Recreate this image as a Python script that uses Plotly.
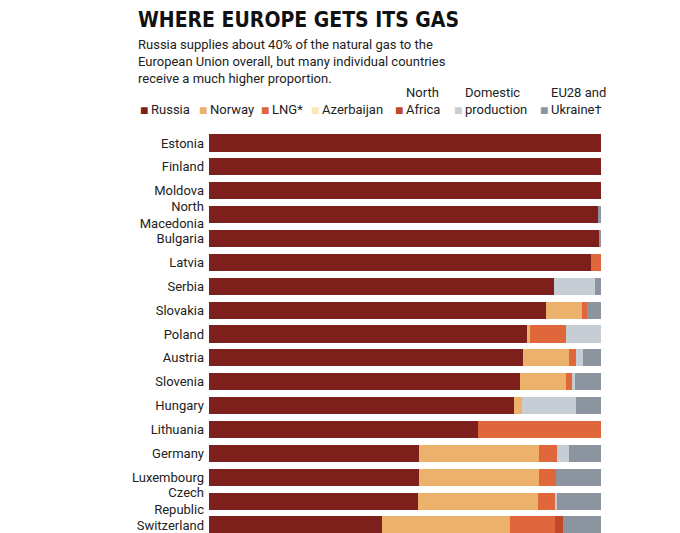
import plotly.graph_objects as go

countries = ["Estonia","Finland","Moldova","North<br>Macedonia","Bulgaria","Latvia","Serbia","Slovakia",
             "Poland","Austria","Slovenia","Hungary","Lithuania","Germany","Luxembourg","Czech<br>Republic","Switzerland"]
series = ["Russia","Norway","LNG*","Azerbaijan","North<br>Africa","Domestic<br>production","EU28 and<br>Ukraine†"]
colors = ["#7d1f1a","#ecb26c","#e0673c","#fbe8b4","#bf4a2b","#c7cdd5","#8c959f"]
russia     = [100,100,100,99.2,99.5,97.4,88.0,86.0,81.1,80.1,79.3,77.8,68.6,53.6,53.6,53.3,44.1]
norway     = [0,0,0,0,0,0,0,9.2,0.8,11.7,11.7,2.0,0,30.6,30.6,30.6,32.7]
lng        = [0,0,0,0,0,2.6,0,1.3,9.2,1.8,1.8,0,31.4,4.6,4.3,4.6,11.5]
azerbaijan = [0]*17
nafrica    = [0,0,0,0,0,0,0,0,0,0,0,0,0,0,0,0,2.0]
domestic   = [0,0,0,0,0,0,10.5,0,8.9,1.8,0.5,13.8,0,3.1,0,0.3,0]
eu_ukraine = [0,0,0,0.8,0.5,0,1.5,3.5,0,4.6,6.7,6.4,0,8.1,11.5,11.2,9.7]
values = [russia,norway,lng,azerbaijan,nafrica,domestic,eu_ukraine]

fig = go.Figure()
for name, col, v in zip(series, colors, values):
    fig.add_trace(go.Bar(y=countries, x=v, name=name, orientation="h",
                         marker=dict(color=col, line=dict(width=0)), showlegend=False))

fig.update_layout(
    barmode="stack", width=680, height=533, bargap=0.28,
    margin=dict(l=201, r=87, t=123, b=4, autoexpand=False),
    paper_bgcolor="white", plot_bgcolor="white",
    font=dict(family="Roboto", size=13, color="#222"),
    xaxis=dict(range=[0,100], visible=False, automargin=False),
    yaxis=dict(autorange="reversed", showgrid=False, ticks="", ticklen=0, automargin=False,
               ticklabelstandoff=4, tickfont=dict(size=13, color="#222")),
)
fig.add_annotation(xref="paper", yref="paper", x=-0.187, y=1.24, xanchor="left", yanchor="bottom",
                   text="<b>WHERE EUROPE GETS ITS GAS</b>", showarrow=False,
                   font=dict(family="DejaVu Sans Condensed", size=21, color="#111"))
fig.add_annotation(xref="paper", yref="paper", x=-0.187, y=1.236, xanchor="left", yanchor="top", align="left",
                   text="Russia supplies about 40% of the natural gas to the<br>European Union overall, but many individual countries<br>receive a much higher proportion.",
                   showarrow=False, font=dict(size=13, color="#222"))
leg_x = [130, 189, 251, 301, 385, 444, 530]
for name, col, lx in zip(series, colors, leg_x):
    fig.add_annotation(xref="paper", yref="paper", x=(lx-201)/392, y=1.027, xanchor="left", yanchor="bottom",
                       text=f"<span style='color:{col}'>■</span>", showarrow=False, font=dict(size=14))
    fig.add_annotation(xref="paper", yref="paper", x=(lx+11-201)/392, y=1.03, xanchor="left", yanchor="bottom",
                       align="left", text=name, showarrow=False, font=dict(size=13, color="#222"))
fig.write_html("out.html")
